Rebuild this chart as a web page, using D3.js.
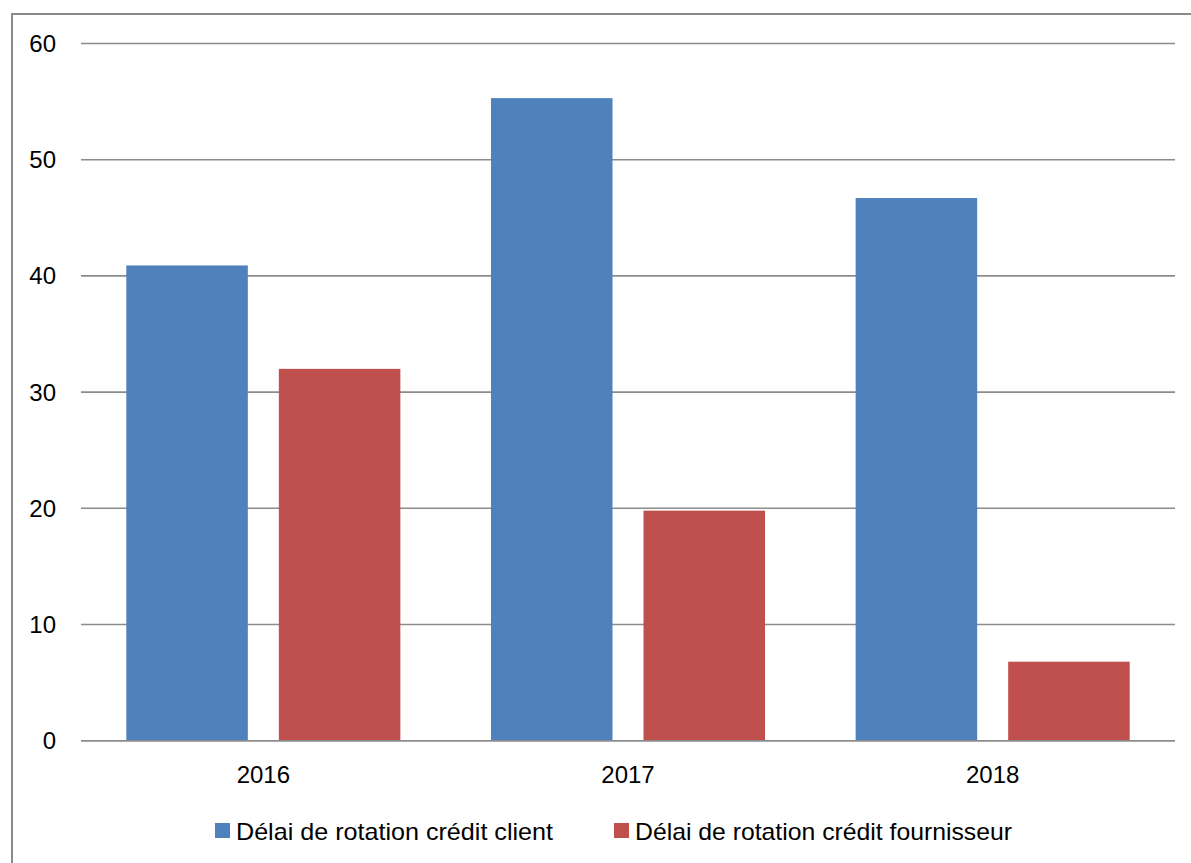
<!DOCTYPE html>
<html>
<head>
<meta charset="utf-8">
<script src="https://cdn.jsdelivr.net/npm/d3@7"></script>
<style>
  html, body { margin: 0; padding: 0; background: #fff; }
  svg { display: block; }
</style>
</head>
<body>
<svg id="chart" width="1191" height="863"></svg>
<script>
const categories = ["2016", "2017", "2018"];
const seriesNames = ["Délai de rotation crédit client", "Délai de rotation crédit fournisseur"];
const clientValues = [40.9, 55.3, 46.7];
const fournisseurValues = [32.0, 19.8, 6.8];
const yTicks = [0, 10, 20, 30, 40, 50, 60];
const colors = ["#4F81BD", "#C0504D"];

const seriesValues = [clientValues, fournisseurValues];
const svg = d3.select("#chart");
const font = "'Liberation Sans', Arial, sans-serif";

// outer chart border (extends past the viewport on right/bottom)
svg.append("rect")
  .attr("x", 12).attr("y", 14)
  .attr("width", 1200).attr("height", 900)
  .attr("fill", "none").attr("stroke", "#8a8a8a").attr("stroke-width", 2);

const plot = { left: 81, right: 1175, top: 43.5, bottom: 740.7 };

const x = d3.scaleBand().domain(categories).range([plot.left, plot.right]).paddingInner(0).paddingOuter(0);
const xs = d3.scaleBand().domain(d3.range(seriesNames.length))
  .range([0, x.bandwidth()]).paddingInner(0.2033).paddingOuter(0.297);
const y = d3.scaleLinear().domain([0, 60]).range([plot.bottom, plot.top]);

// gridlines
svg.append("g").selectAll("line").data(yTicks).join("line")
  .attr("x1", plot.left).attr("x2", plot.right)
  .attr("y1", d => y(d)).attr("y2", d => y(d))
  .attr("stroke", "#8c8c8c").attr("stroke-width", 1.6);

// y labels
svg.append("g").selectAll("text").data(yTicks).join("text")
  .attr("x", 56).attr("y", d => y(d))
  .attr("dy", "0.35em")
  .attr("text-anchor", "end")
  .attr("font-family", font).attr("font-size", 24).attr("fill", "#000")
  .text(d => d);

// bars
const groups = svg.append("g").selectAll("g").data(categories).join("g")
  .attr("transform", d => `translate(${x(d)},0)`);
groups.selectAll("rect")
  .data((c, ci) => seriesValues.map((vals, si) => ({ si, v: vals[ci] })))
  .join("rect")
  .attr("x", d => xs(d.si))
  .attr("width", xs.bandwidth())
  .attr("y", d => y(d.v))
  .attr("height", d => y(0) - y(d.v))
  .attr("fill", d => colors[d.si]);

// redraw baseline over bars
svg.append("line")
  .attr("x1", plot.left).attr("x2", plot.right)
  .attr("y1", y(0)).attr("y2", y(0))
  .attr("stroke", "#8c8c8c").attr("stroke-width", 1.6);

// x labels
svg.append("g").selectAll("text").data(categories).join("text")
  .attr("x", d => x(d) + x.bandwidth() / 2)
  .attr("y", 783)
  .attr("text-anchor", "middle")
  .attr("font-family", font).attr("font-size", 24).attr("fill", "#000")
  .text(d => d);

// legend
const legendItems = [
  { name: seriesNames[0], color: colors[0], sx: 215, tx: 236, tw: 317 },
  { name: seriesNames[1], color: colors[1], sx: 614, tx: 635, tw: 377 }
];
const lg = svg.append("g");
lg.selectAll("rect").data(legendItems).join("rect")
  .attr("x", d => d.sx).attr("y", 823).attr("width", 15).attr("height", 15)
  .attr("fill", d => d.color);
lg.selectAll("text").data(legendItems).join("text")
  .attr("x", d => d.tx).attr("y", 840)
  .attr("textLength", d => d.tw).attr("lengthAdjust", "spacingAndGlyphs")
  .attr("font-family", font).attr("font-size", 24).attr("fill", "#000")
  .text(d => d.name);
</script>
</body>
</html>
